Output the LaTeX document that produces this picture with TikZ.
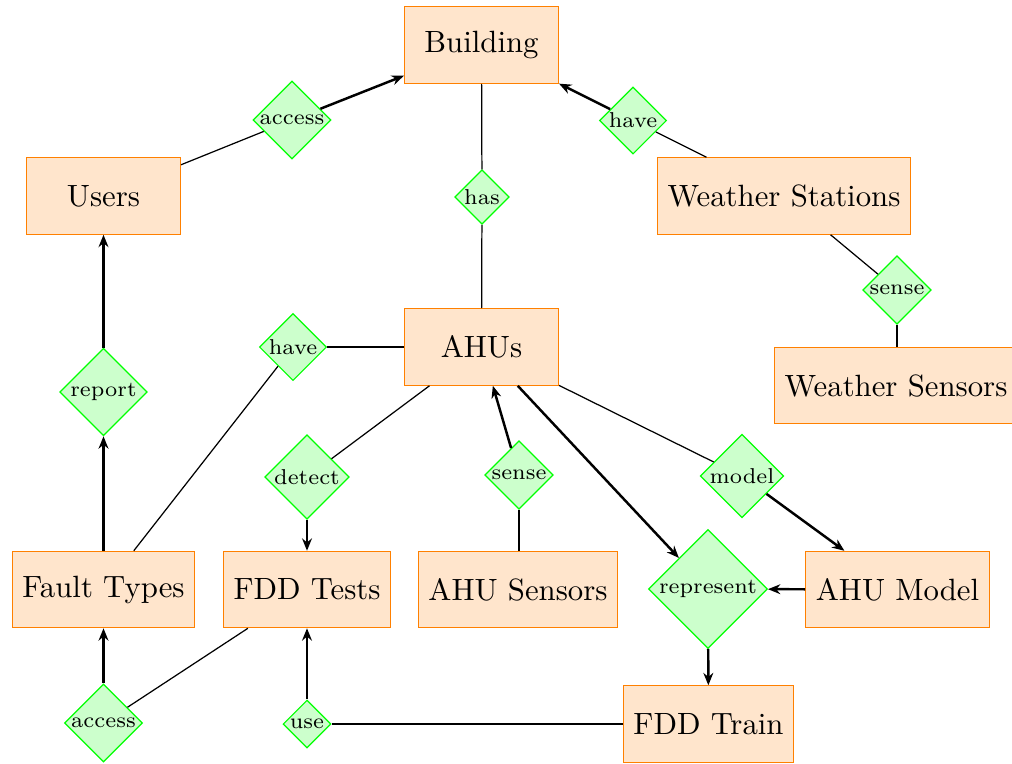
\documentclass[tikz,border=0pt]{standalone}
\usetikzlibrary{shapes.geometric,arrows.meta}
\tikzset{
  ent/.style={draw=orange, fill=orange!20, minimum width=50pt, minimum height=24.8pt, inner xsep=3.33pt, font=\fontsize{10}{12}\selectfont},
  rel/.style={draw=green, fill=green!20, shape=diamond, aspect=1, inner sep=0.3pt, font=\scriptsize},
  ln/.style={draw, thin},
  arr/.style={draw, thick, -{Stealth[length=4pt,width=3.2pt]}}
}
\begin{document}
\begin{tikzpicture}[x=0.325pt,y=-0.325pt]
\useasboundingbox (0,0) rectangle (1012,763);
% entities
\node[ent] (building) at (481.5,45) {Building};
\node[ent] (users) at (103.5,196) {Users};
\node[ent] (ws) at (784,196) {Weather Stations};
\node[ent] (ahus) at (481.5,347) {AHUs};
\node[ent] (wsens) at (896,385.5) {Weather Sensors};
\node[ent] (ft) at (103.5,589.5) {Fault Types};
\node[ent] (fddt) at (307,589.5) {FDD Tests};
\node[ent] (ahusens) at (518,589.5) {AHU Sensors};
\node[ent] (ahum) at (897.5,589.5) {AHU Model};
\node[ent] (fddtr) at (708.5,724) {FDD Train};
% relations
\node[rel] (acc1) at (292,120) {access};
\node[rel] (have1) at (633,120.5) {have};
\node[rel] (has) at (482,197) {has};
\node[rel] (sense1) at (897,290) {sense};
\node[rel] (have2) at (293,347) {have};
\node[rel] (report) at (103.5,392) {report};
\node[rel] (detect) at (307,477) {detect};
\node[rel] (sense2) at (519,475) {sense};
\node[rel] (model) at (742,476) {model};
\node[rel] (repr) at (708,589) {represent};
\node[rel] (acc2) at (103.5,723) {access};
\node[rel] (use) at (307,724) {use};
% connectors
\path[ln] (users) -- (acc1);
\path[arr] (acc1) -- (building);
\path[ln] (building) -- (has);
\path[ln] (has) -- (ahus);
\path[ln] (ws) -- (have1);
\path[arr] (have1) -- (building);
\path[ln] (ws) -- (sense1);
\path[ln] (sense1) -- (sense1 |- wsens.north);
\path[ln] (ahus) -- (have2);
\path[ln] (ft) -- (have2);
\path[arr] (ft) -- (report);
\path[arr] (report) -- (users);
\path[ln] (ahus) -- (detect);
\path[arr] (detect) -- (fddt);
\path[ln] (ahusens.north -| sense2) -- (sense2);
\path[arr] (sense2) -- (ahus);
\path[arr] (ahus) -- (repr);
\path[ln] (ahus) -- (model);
\path[arr] (model) -- (ahum);
\path[arr] (ahum) -- (repr);
\path[arr] (repr) -- (fddtr);
\path[ln] (fddt) -- (acc2);
\path[arr] (acc2) -- (ft);
\path[ln] (fddtr) -- (use);
\path[arr] (use) -- (fddt);
\end{tikzpicture}
\end{document}
